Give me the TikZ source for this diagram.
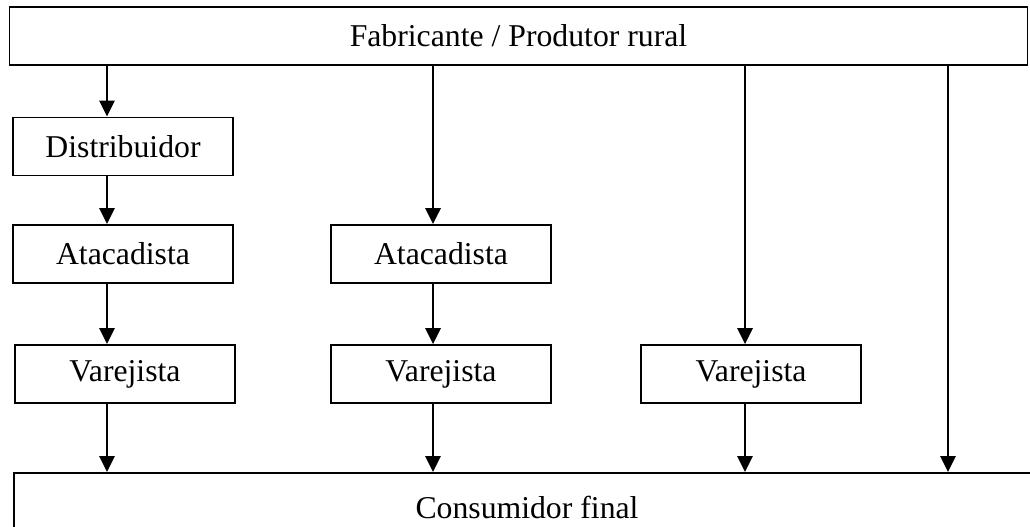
\documentclass[tikz,border=0pt]{standalone}
\usepackage{fontspec}
\setmainfont{Liberation Serif}
\usetikzlibrary{arrows.meta}
\begin{document}
\begin{tikzpicture}[x=0.75pt,y=-0.75pt,
  txt/.style={font=\fontsize{23.8}{28}\selectfont},
  box/.style={draw, line width=1.4pt, inner sep=0pt, txt},
  smallbox/.style={box, minimum width=165pt, minimum height=43.5pt},
  flow/.style={line width=1.6pt, -{Triangle[length=12pt,width=11.5pt]}}]
\useasboundingbox (0,0) rectangle (1030,527);

% producer and consumer bands
\node[box, minimum width=763.5pt, minimum height=43.5pt] (top) at (518.5,36) {Fabricante / Produtor rural};
\node[box, anchor=north west, minimum width=774pt, minimum height=60pt] (cons) at (13,472) {};
\node[txt, inner sep=0pt] (consl) at (527,507) {Consumidor final};

% intermediaries
\node[smallbox] (dist) at (123,146.5) {Distribuidor};
\node[smallbox] (ata1) at (123,254) {Atacadista};
\node[smallbox] (ata2) at (441,254) {Atacadista};
\node[smallbox] (var1) at (125,374) {Varejista};
\node[smallbox] (var2) at (441,374) {Varejista};
\node[smallbox] (var3) at (751,374) {Varejista};

% channel columns
\coordinate (c1) at (107,0);
\coordinate (c2) at (433,0);
\coordinate (c3) at (745,0);
\coordinate (c4) at (948,0);

% channel 1
\draw[flow] (top.south -| c1) -- (dist.north -| c1);
\draw[flow] (dist.south -| c1) -- (ata1.north -| c1);
\draw[flow] (ata1.south -| c1) -- (var1.north -| c1);
\draw[flow] (var1.south -| c1) -- (cons.north -| c1);
% channel 2
\draw[flow] (top.south -| c2) -- (ata2.north -| c2);
\draw[flow] (ata2.south -| c2) -- (var2.north -| c2);
\draw[flow] (var2.south -| c2) -- (cons.north -| c2);
% channel 3
\draw[flow] (top.south -| c3) -- (var3.north -| c3);
\draw[flow] (var3.south -| c3) -- (cons.north -| c3);
% direct channel
\draw[flow] (top.south -| c4) -- (cons.north -| c4);
\end{tikzpicture}
\end{document}
